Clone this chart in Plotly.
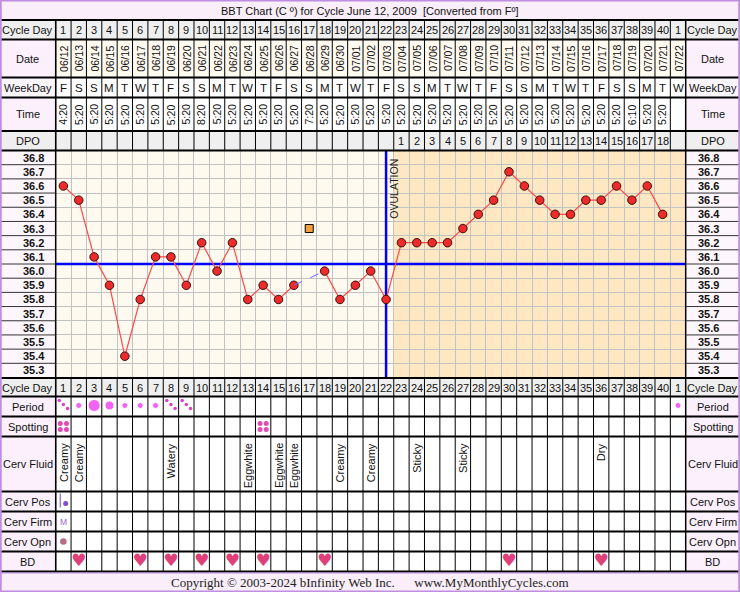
import plotly.graph_objects as go

# ---- data ----
cycle_day = [str(d) for d in range(1, 41)] + ["1"]
dates = ["06/12", "06/13", "06/14", "06/15", "06/16", "06/17", "06/18", "06/19", "06/20", "06/21",
         "06/22", "06/23", "06/24", "06/25", "06/26", "06/27", "06/28", "06/29", "06/30", "07/01",
         "07/02", "07/03", "07/04", "07/05", "07/06", "07/07", "07/08", "07/09", "07/10", "07/11",
         "07/12", "07/13", "07/14", "07/15", "07/16", "07/17", "07/18", "07/19", "07/20", "07/21",
         "07/22"]
weekdays = ["F", "S", "S", "M", "T", "W", "T", "F", "S", "S", "M", "T", "W", "T", "F", "S", "S",
            "M", "T", "W", "T", "F", "S", "S", "M", "T", "W", "T", "F", "S", "S", "M", "T", "W",
            "T", "F", "S", "S", "M", "T", "W"]
times = ["4:20", "5:20", "5:20", "5:20", "5:20", "5:20", "5:20", "5:20", "5:20", "8:20",
         "5:20", "5:20", "5:20", "5:20", "5:20", "5:20", "7:20", "5:20", "5:20", "5:20",
         "5:20", "5:20", "5:20", "5:20", "5:20", "5:20", "5:20", "5:20", "5:20", "5:20",
         "5:20", "5:20", "5:20", "5:20", "5:20", "5:20", "5:20", "6:10", "5:20", "5:20", ""]
dpo_cols = list(range(23, 41))
dpo_vals = list(range(1, 19))

temps = [36.6, 36.5, 36.1, 35.9, 35.4, 35.8, 36.1, 36.1, 35.9, 36.2,
         36.0, 36.2, 35.8, 35.9, 35.8, 35.9, None, 36.0, 35.8, 35.9,
         36.0, 35.8, 36.2, 36.2, 36.2, 36.2, 36.3, 36.4, 36.5, 36.7,
         36.6, 36.5, 36.4, 36.4, 36.5, 36.5, 36.6, 36.5, 36.6, 36.4]
discard_day, discard_temp = 17, 36.3
temp_labels = [36.8, 36.7, 36.6, 36.5, 36.4, 36.3, 36.2, 36.1, 36.0, 35.9, 35.8, 35.7,
               35.6, 35.5, 35.4, 35.3]
coverline = 36.05
ovulation_day = 22

period_cols = [1, 2, 3, 4, 5, 6, 7, 8, 9, 41]
period_flow = ["spot", "light", "heavy", "medium", "light", "light", "light", "spot", "spot", "light"]
spotting_cols = [1, 14]
fluid_cols = [1, 2, 8, 13, 15, 16, 19, 21, 24, 27, 36]
fluid_text = ["Creamy", "Creamy", "Watery", "Eggwhite", "Eggwhite", "Eggwhite", "Creamy",
              "Creamy", "Sticky", "Sticky", "Dry"]
bd_cols = [2, 6, 8, 10, 12, 14, 18, 30, 36]

# ---- page geometry (pixels) ----
W, H = 740, 592
LEFT, RIGHT = 55.7, 685.7
NCOL = len(cycle_day)
FONT = "Liberation Sans"
INK = "#111111"
PINK = "#fcf0fc"
GREY = "#efefef"
CREAM = "#fffaf0"
ORANGE = "#fde8c3"
PURPLE = "#c08ee0"

# rows: name, top px, bottom px, cell fill, label fill
upper = [("Cycle Day", 20, 39.5, GREY, GREY),
         ("Date", 39.5, 77.5, CREAM, PINK),
         ("WeekDay", 77.5, 97.5, "white", "#fbf6fb"),
         ("Time", 97.5, 131, "white", PINK),
         ("DPO", 131, 150.5, GREY, GREY)]
CH_TOP, CH_BOT = 150.5, 377.5
lower = [("Cycle Day", 378.5, 396.5, GREY, GREY),
         ("Period", 396.5, 416.5, "white", PINK),
         ("Spotting", 416.5, 436.5, "white", PINK),
         ("Cerv Fluid", 436.5, 491.5, "white", PINK),
         ("Cerv Pos", 491.5, 511.5, "white", PINK),
         ("Cerv Firm", 511.5, 531.5, "white", PINK),
         ("Cerv Opn", 531.5, 551.5, "white", PINK),
         ("BD", 551.5, 571.5, "white", PINK)]


def mid(r):
    return (r[1] + r[2]) / 2


cols = list(range(1, NCOL + 1))
shapes = []
ann = []


def txt(text, x, y, size=11, xref="x2", yref="y2", angle=0, bold=False, color=INK, family=FONT,
        xanchor="center", yanchor="middle"):
    if bold:
        text = "<b>" + text + "</b>"
    ann.append(dict(text=text, x=x, y=y, xref=xref, yref=yref, textangle=angle, showarrow=False,
                    xanchor=xanchor, yanchor=yanchor,
                    font=dict(family=family, size=size, color=color)))


# backgrounds
shapes.append(dict(type="rect", xref="paper", yref="y2", x0=0, x1=1, y0=0, y1=20,
                   fillcolor="#f9eef9", line_width=0, layer="below"))
shapes.append(dict(type="rect", xref="paper", yref="y2", x0=0, x1=1, y0=571.5, y1=H,
                   fillcolor="#f9eef9", line_width=0, layer="below"))
for r in upper + lower:
    shapes.append(dict(type="rect", xref="x2", yref="y2", x0=0.5, x1=NCOL + 0.5, y0=r[1], y1=r[2],
                       fillcolor=r[3], line_width=0, layer="below"))
    for x0, x1 in [(0, LEFT / W), (RIGHT / W, 1)]:
        shapes.append(dict(type="rect", xref="paper", yref="y2", x0=x0, x1=x1, y0=r[1], y1=r[2],
                           fillcolor=r[4], line_width=0, layer="below"))
for x0, x1 in [(0, LEFT / W), (RIGHT / W, 1)]:
    shapes.append(dict(type="rect", xref="paper", yref="y2", x0=x0, x1=x1, y0=CH_TOP, y1=CH_BOT,
                       fillcolor="#fdf6fd", line_width=0, layer="below"))
shapes.append(dict(type="rect", xref="x", yref="y", x0=0.5, x1=ovulation_day + 0.5, y0=35.25, y1=36.85,
                   fillcolor=CREAM, line_width=0, layer="below"))
shapes.append(dict(type="rect", xref="x", yref="y", x0=ovulation_day + 0.5, x1=NCOL + 0.5, y0=35.25,
                   y1=36.85, fillcolor=ORANGE, line_width=0, layer="below"))

# coverline and ovulation line
shapes.append(dict(type="line", xref="x", yref="y", x0=0.5, x1=NCOL + 0.5, y0=coverline, y1=coverline,
                   line=dict(color="#0000ff", width=2.5), layer="between"))
shapes.append(dict(type="line", xref="x", yref="y", x0=ovulation_day, x1=ovulation_day, y0=35.25,
                   y1=36.85, line=dict(color="#0000ff", width=2.5), layer="between"))

# table lines
for top, bot in [(20, CH_TOP), (CH_BOT + 1, 571.5)]:
    for k in range(NCOL + 1):
        shapes.append(dict(type="line", xref="x2", yref="y2", x0=k + 0.5, x1=k + 0.5, y0=top, y1=bot,
                           line=dict(color="black", width=1)))
for y in [20, 39.5, 77.5, 97.5, 131, CH_TOP, CH_BOT + 0.5, 396.5, 416.5, 436.5, 491.5, 511.5,
          531.5, 551.5, 571.5]:
    shapes.append(dict(type="line", xref="paper", yref="y2", x0=0, x1=1, y0=y, y1=y,
                       line=dict(color="black", width=2)))
for xp in [LEFT / W, RIGHT / W]:
    shapes.append(dict(type="line", xref="paper", yref="y2", x0=xp, x1=xp, y0=20, y1=571.5,
                       line=dict(color="black", width=1.5)))
# separators in the temperature label columns
for t in temp_labels[:-1]:
    for x0, x1 in [(0, LEFT / W), (RIGHT / W, 1)]:
        shapes.append(dict(type="line", xref="paper", yref="y", x0=x0, x1=x1, y0=t - 0.05, y1=t - 0.05,
                           line=dict(color="#333333", width=1)))
# outer frame
shapes.append(dict(type="rect", xref="paper", yref="paper", x0=0.001, x1=0.999, y0=0.001, y1=0.999,
                   line=dict(color=PURPLE, width=2), fillcolor="rgba(0,0,0,0)"))
shapes.append(dict(type="line", xref="paper", yref="y2", x0=0, x1=1, y0=573, y1=573,
                   line=dict(color=PURPLE, width=1)))

# ---- texts ----
txt("BBT Chart (C º) for Cycle June 12, 2009  [Converted from Fº]", 0.5, 10.5, xref="paper")
for r in upper + lower:
    for xc in [27.8 / W, (RIGHT + 27.2) / W]:
        txt(r[0], xc, mid(r), xref="paper")
for c, d, w, t in zip(cols, dates, weekdays, times):
    txt(cycle_day[c - 1], c, mid(upper[0]))
    txt(cycle_day[c - 1], c, mid(lower[0]))
    txt(d, c, mid(upper[1]), size=10.5, angle=-90)
    txt(w, c, mid(upper[2]), size=11.5)
    if t:
        txt(t, c, mid(upper[3]), size=10.5, angle=-90)
for c, v in zip(dpo_cols, dpo_vals):
    txt(str(v), c, mid(upper[4]))
for t in temp_labels:
    for xc in [33.5 / W, 708.5 / W]:
        txt("%.1f" % t, xc, t, yref="y", xref="paper", bold=True)
txt("OVULATION", ovulation_day + 0.5, 36.85 - 0.045, xref="x", yref="y", size=10.5, angle=-90,
    color="#222222", yanchor="top")
for c, f in zip(fluid_cols, fluid_text):
    txt(f, c, 441, size=11, angle=-90, yanchor="top")
txt("M", 1, mid(lower[5]), size=8.5, color="#9a62d2")
txt("Copyright © 2003-2024 bInfinity Web Inc.      www.MyMonthlyCycles.com", 0.5, 582.5,
    xref="paper", size=13, family="Liberation Serif", color="#222222")

# ---- traces ----
fig = go.Figure()
days = list(range(1, len(temps) + 1))
fig.add_trace(go.Scatter(x=days, y=temps, mode="lines+markers", connectgaps=False,
                         line=dict(color="#ff4a4a", width=1.2),
                         marker=dict(color="#ee2a2a", size=8.5, line=dict(color="#3a1010", width=1))))
fig.add_trace(go.Scatter(x=[discard_day - 1, discard_day + 1],
                         y=[temps[discard_day - 2], temps[discard_day]], mode="lines",
                         line=dict(color="#6a6aff", width=1, dash="dash")))
fig.add_trace(go.Scatter(x=[discard_day], y=[discard_temp], mode="markers",
                         marker=dict(symbol="square", color="#f5a040", size=8,
                                     line=dict(color="black", width=1))))

# period dots
flow_size = {"light": 6, "medium": 9, "heavy": 12}
pr = mid(lower[1])
big = [(c, flow_size[f]) for c, f in zip(period_cols, period_flow) if f != "spot"]
fig.add_trace(go.Scatter(x=[b[0] for b in big], y=[pr - 1] * len(big), mode="markers", xaxis="x2",
                         yaxis="y2", marker=dict(color="#ee22ee", size=[b[1] for b in big])))
sx, sy = [], []
for c, f in zip(period_cols, period_flow):
    if f == "spot":
        for o in (-1, 0, 1):
            sx.append(c + o * 0.27)
            sy.append(pr - 2 + o * 4)
fig.add_trace(go.Scatter(x=sx, y=sy, mode="markers", xaxis="x2", yaxis="y2",
                         marker=dict(color="#e040c8", size=3.5)))
# spotting
qx, qy = [], []
for c in spotting_cols:
    for ox in (-0.2, 0.2):
        for oy in (-3, 3):
            qx.append(c + ox)
            qy.append(mid(lower[2]) + oy)
fig.add_trace(go.Scatter(x=qx, y=qy, mode="markers", xaxis="x2", yaxis="y2",
                         marker=dict(color="#e04cb4", size=5)))
# cervix position / opening
fig.add_trace(go.Scatter(x=[0.8], y=[mid(lower[4]) - 1], mode="markers", xaxis="x2", yaxis="y2",
                         marker=dict(symbol="line-ns", size=10, line=dict(color="#9a80d0", width=1.5))))
fig.add_trace(go.Scatter(x=[1.15], y=[mid(lower[4]) + 2], mode="markers", xaxis="x2", yaxis="y2",
                         marker=dict(color="#7a50c8", size=5)))
fig.add_trace(go.Scatter(x=[1], y=[mid(lower[6])], mode="markers", xaxis="x2", yaxis="y2",
                         marker=dict(color="#b86c8c", size=6.5)))
# intercourse hearts
fig.add_trace(go.Scatter(x=bd_cols, y=[mid(lower[7])] * len(bd_cols), mode="text", text="♥",
                         xaxis="x2", yaxis="y2",
                         textfont=dict(family="DejaVu Sans", size=17, color="#e0407a")))

grid_y = [t - 0.05 for t in temp_labels] + [35.25]
fig.update_layout(
    width=W, height=H, margin=dict(l=0, r=0, t=0, b=0),
    paper_bgcolor="white", plot_bgcolor="rgba(0,0,0,0)", showlegend=False,
    xaxis=dict(domain=[LEFT / W, RIGHT / W], range=[0.5, NCOL + 0.5], tickvals=[k + 0.5 for k in range(NCOL + 1)],
               showgrid=True, gridcolor="#c2c2c2", gridwidth=1, showticklabels=False, ticks="",
               zeroline=False, showline=False, fixedrange=True),
    yaxis=dict(domain=[1 - CH_BOT / H, 1 - CH_TOP / H], range=[35.25, 36.85], tickvals=grid_y,
               showgrid=True, gridcolor="#c2c2c2", gridwidth=1, showticklabels=False, ticks="",
               zeroline=False, showline=False, fixedrange=True),
    xaxis2=dict(matches="x", domain=[LEFT / W, RIGHT / W], anchor="y2", visible=False),
    yaxis2=dict(domain=[0, 1], range=[H, 0], anchor="x2", visible=False, fixedrange=True),
    shapes=shapes, annotations=ann,
)
fig.write_html("out.html", config={"displayModeBar": False},
               post_script="document.body.style.margin='0';document.body.style.overflow='hidden';")
